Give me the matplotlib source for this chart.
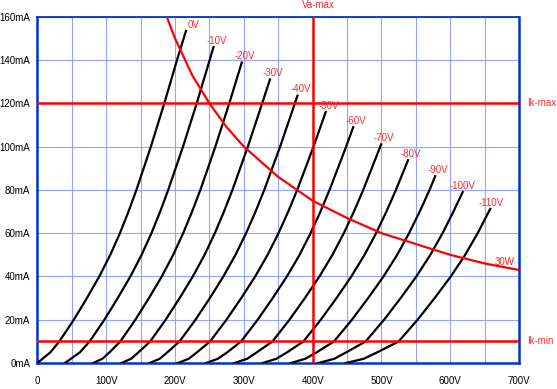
import matplotlib
matplotlib.use("Agg")
import matplotlib.pyplot as plt
from matplotlib.ticker import MultipleLocator

plt.rcParams['font.family'] = ['Liberation Sans', 'DejaVu Sans']

# plate curves: anode voltage (V) / anode current (mA)
grid_labels = ['0V', '-10V', '-20V', '-30V', '-40V', '-50V',
               '-60V', '-70V', '-80V', '-90V', '-100V', '-110V']

va_0 = [0, 19, 32, 53, 72, 90, 106, 120, 132.5, 144, 165, 184.5, 203, 216]
ia_0 = [0, 5, 10, 20, 30, 40, 50, 60, 70, 80, 100, 120, 140, 153.5]
va_10 = [40, 62, 76, 97.4, 116.8, 135.2, 151.5, 165.8, 178.5, 190.2, 211.7, 231.6, 250.4, 256]
ia_10 = [0, 5, 10, 20, 30, 40, 50, 60, 70, 80, 100, 120, 140, 146]
va_20 = [81, 94.5, 105, 120.6, 142.4, 162.1, 180.8, 197.4, 211.9, 224.9, 236.9, 258.7, 278.9, 297]
ia_20 = [0, 2, 5, 10, 20, 30, 40, 50, 60, 70, 80, 100, 120, 138.8]
va_30 = [122, 136.3, 147, 164, 186.4, 206.7, 225.9, 243, 257.9, 271.2, 283.5, 305.9, 326.7, 338]
ia_30 = [0, 2, 5, 10, 20, 30, 40, 50, 60, 70, 80, 100, 120, 131]
va_40 = [163, 177.8, 189, 206.6, 229.7, 250.6, 270.3, 287.9, 303.3, 317.1, 329.7, 352.8, 374.2, 378]
ia_40 = [0, 2, 5, 10, 20, 30, 40, 50, 60, 70, 80, 100, 120, 123.5]
va_50 = [204, 220, 232, 251, 274.7, 296.2, 316.5, 334.6, 350.4, 364.6, 377.6, 401.3, 419]
ia_50 = [0, 2, 5, 10, 20, 30, 40, 50, 60, 70, 80, 100, 116]
va_60 = [245, 262.3, 276, 296, 320.1, 341.9, 362.6, 381, 397, 411.4, 424.6, 448.7, 459]
ia_60 = [0, 2, 5, 10, 20, 30, 40, 50, 60, 70, 80, 100, 109]
va_70 = [286, 304.9, 319, 341.6, 366.3, 388.7, 409.9, 428.8, 445.3, 460, 473.5, 499.5]
ia_70 = [0, 2, 5, 10, 20, 30, 40, 50, 60, 70, 80, 101]
va_80 = [327, 347.3, 363, 386.6, 411.8, 434.6, 456.2, 475.4, 492.2, 507.2, 521, 538.6]
ia_80 = [0, 2, 5, 10, 20, 30, 40, 50, 60, 70, 80, 93.7]
va_90 = [368, 389.4, 406, 431, 457, 480.6, 502.9, 522.8, 540.1, 555.6, 569.9, 578]
ia_90 = [0, 2, 5, 10, 20, 30, 40, 50, 60, 70, 80, 86.3]
va_100 = [408, 431.5, 449, 477, 503.7, 527.8, 550.7, 571, 588.8, 604.6, 618]
ia_100 = [0, 2, 5, 10, 20, 30, 40, 50, 60, 70, 79]
va_110 = [448, 474.2, 494, 525, 552.4, 577.2, 600.7, 621.6, 639.8, 658]
ia_110 = [0, 2, 5, 10, 20, 30, 40, 50, 60, 71.2]

curves_va = [va_0, va_10, va_20, va_30, va_40, va_50,
             va_60, va_70, va_80, va_90, va_100, va_110]
curves_ia = [ia_0, ia_10, ia_20, ia_30, ia_40, ia_50,
             ia_60, ia_70, ia_80, ia_90, ia_100, ia_110]

# 30W dissipation limit
pmax_va = [188, 200, 225, 250, 275, 300, 350, 400, 450, 500, 550, 600, 650, 700]
pmax_ia = [160, 150, 133, 120, 109, 100, 86, 75, 67, 60, 55, 50, 46, 43]

ik_max = 120
ik_min = 10
va_max = 400

RED = '#ff0000'
LBL = '#ff2a2a'
BLUE = '#0033cc'

fig = plt.figure(figsize=(5.57, 3.89), dpi=100)
ax = fig.add_axes([0.067, 0.0666, 0.865, 0.8905])

ax.set_xlim(0, 700)
ax.set_ylim(0, 160)
ax.xaxis.set_minor_locator(MultipleLocator(50))
ax.grid(True, which='both', axis='x', color='#8ea6ff', linewidth=0.8)
ax.grid(True, which='major', axis='y', color='#8ea6ff', linewidth=0.8)
ax.set_axisbelow(True)

ax.set_xticks(range(0, 701, 100))
ax.set_xticklabels(['0'] + ['%dV' % v for v in range(100, 701, 100)])
ax.set_yticks(range(0, 161, 20))
ax.set_yticklabels(['%dmA' % v for v in range(0, 161, 20)])
ax.tick_params(which='both', length=0, labelsize=7, colors='black')
ax.tick_params(axis='x', pad=9)
ax.tick_params(axis='y', pad=5)

for side in ax.spines:
    ax.spines[side].set_color(BLUE)
    ax.spines[side].set_linewidth(1.8)
ax.spines['top'].set_linewidth(1.3)

for va, ia, lab in zip(curves_va, curves_ia, grid_labels):
    ax.plot(va, ia, color='black', linewidth=1.6, solid_joinstyle='round', zorder=3)
    ax.annotate(lab, (va[-1], ia[-1]), xytext=(9.5, 4.5), textcoords='offset points',
                ha='right', va='center', fontsize=7, color=LBL, zorder=5)

ax.plot(pmax_va, pmax_ia, color=RED, linewidth=1.6, zorder=4)
ax.axhline(ik_max, color=RED, linewidth=1.8, zorder=4)
ax.axhline(ik_min, color=RED, linewidth=1.8, zorder=4)
ax.axvline(va_max, color=RED, linewidth=1.8, zorder=4)

ax.text(693, 46.7, '30W', ha='right', va='center', fontsize=7, color=LBL)
ax.annotate('Ik-max', (700, ik_max), xytext=(5.5, 0), textcoords='offset points',
            ha='left', va='center', fontsize=7, color=LBL, annotation_clip=False)
ax.annotate('Ik-min', (700, ik_min), xytext=(5.5, 0), textcoords='offset points',
            ha='left', va='center', fontsize=7, color=LBL, annotation_clip=False)
ax.annotate('Va-max', (va_max, 160), xytext=(4, 8.5), textcoords='offset points',
            ha='center', va='center', fontsize=7, color=LBL, annotation_clip=False)

fig.savefig('out.png', dpi=100)
